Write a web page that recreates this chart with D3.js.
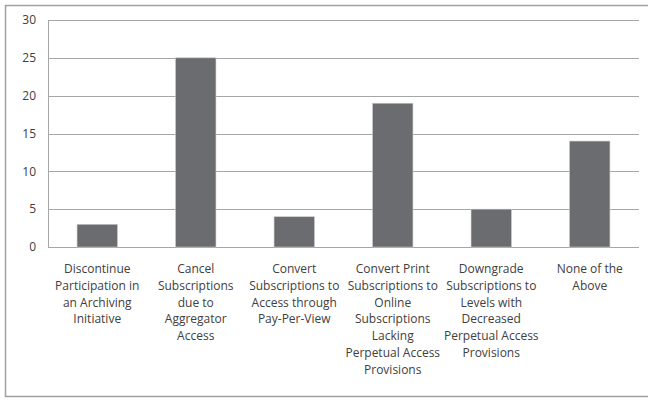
<!DOCTYPE html>
<html>
<head>
<meta charset="utf-8">
<script src="https://cdn.jsdelivr.net/npm/d3@7"></script>
<style>
  html, body { margin: 0; padding: 0; background: #fff; }
  svg { display: block; }
  text { font-family: "Open Sans", "Noto Sans", sans-serif; fill: #404040; }
</style>
</head>
<body>
<svg id="chart" width="648" height="400"></svg>
<script>
// Survey responses per action
const categories = [
  "Discontinue Participation in an Archiving Initiative",
  "Cancel Subscriptions due to Aggregator Access",
  "Convert Subscriptions to Access through Pay-Per-View",
  "Convert Print Subscriptions to Online Subscriptions Lacking Perpetual Access Provisions",
  "Downgrade Subscriptions to Levels with Decreased Perpetual Access Provisions",
  "None of the Above"
];
// Wrapped category label lines
const labelLines = [
  ["Discontinue", "Participation in", "an Archiving", "Initiative"],
  ["Cancel", "Subscriptions", "due to", "Aggregator", "Access"],
  ["Convert", "Subscriptions to", "Access through", "Pay-Per-View"],
  ["Convert Print", "Subscriptions to", "Online", "Subscriptions", "Lacking", "Perpetual Access", "Provisions"],
  ["Downgrade", "Subscriptions to", "Levels with", "Decreased", "Perpetual Access", "Provisions"],
  ["None of the", "Above"]
];
const values = [3, 25, 4, 19, 5, 14];
const yTicks = [0, 5, 10, 15, 20, 25, 30];

const svg = d3.select("#chart");

// Outer chart frame
svg.append("path")
  .attr("d", "M650,5.5 H5.5 V396.5 H650")
  .attr("fill", "none")
  .attr("stroke", "#a0a0a0")
  .attr("stroke-width", 1.5);

const plot = { left: 48, right: 639, top: 20, bottom: 247 };

const x = d3.scaleBand()
  .domain(categories)
  .range([plot.left, plot.right])
  .paddingInner(0.59)
  .paddingOuter(0.295);

const y = d3.scaleLinear()
  .domain([0, 30])
  .range([plot.bottom, plot.top]);

// Horizontal gridlines
svg.append("g")
  .selectAll("line")
  .data(yTicks)
  .join("line")
  .attr("x1", plot.left)
  .attr("x2", plot.right)
  .attr("y1", d => Math.round(y(d)) + 0.5)
  .attr("y2", d => Math.round(y(d)) + 0.5)
  .attr("stroke", "#a6a6a6")
  .attr("stroke-width", 1);

// Vertical axis line
svg.append("line")
  .attr("x1", plot.left + 0.5)
  .attr("x2", plot.left + 0.5)
  .attr("y1", y(30))
  .attr("y2", y(0) + 0.5)
  .attr("stroke", "#a6a6a6");

// Y tick labels
svg.append("g")
  .selectAll("text")
  .data(yTicks)
  .join("text")
  .attr("x", 36)
  .attr("y", d => y(d))
  .attr("dy", "0.35em")
  .attr("text-anchor", "end")
  .attr("font-size", 12)
  .text(d => d);

// Bars
svg.append("g")
  .selectAll("rect")
  .data(values)
  .join("rect")
  .attr("x", (d, i) => x(categories[i]))
  .attr("y", d => y(d))
  .attr("width", x.bandwidth())
  .attr("height", d => y(0) - y(d))
  .attr("fill", "#6b6c70")
  .attr("stroke", "#c8c8c8")
  .attr("stroke-width", 0.6);

// Category labels
const lab = svg.append("g")
  .selectAll("text")
  .data(categories)
  .join("text")
  .attr("text-anchor", "middle")
  .attr("font-size", 12)
  .attr("x", d => x(d) + x.bandwidth() / 2)
  .attr("y", 273);

lab.selectAll("tspan")
  .data((d, i) => labelLines[i])
  .join("tspan")
  .attr("x", function () { return d3.select(this.parentNode).attr("x"); })
  .attr("dy", (d, j) => j === 0 ? 0 : 16.8)
  .text(d => d);
</script>
</body>
</html>
